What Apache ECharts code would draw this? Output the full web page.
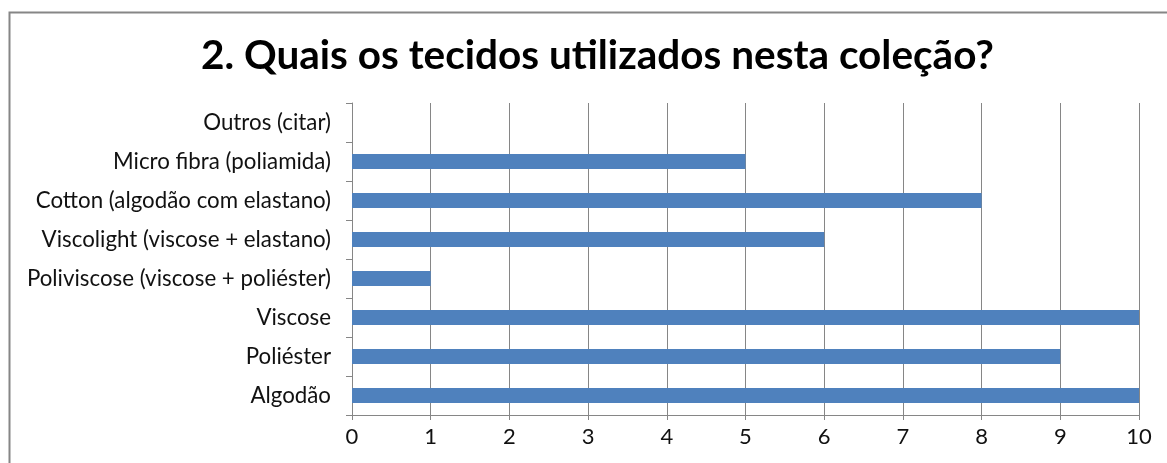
<!DOCTYPE html>
<html><head><meta charset="utf-8">
<script src="https://cdn.jsdelivr.net/npm/echarts@6/dist/echarts.min.js"></script>
<style>html,body{margin:0;padding:0;background:#fff}#c{width:1167px;height:463px}</style>
</head><body><div id="c"></div>
<script>
const title = "2. Quais os tecidos utilizados nesta coleção?";
const categories = ["Algodão","Poliéster","Viscose","Poliviscose (viscose + poliéster)","Viscolight (viscose + elastano)","Cotton (algodão com elastano)","Micro fibra (poliamida)","Outros (citar)"];
const values = [10, 9, 10, 1, 6, 8, 5, 0];
const xMin = 0, xMax = 10, xStep = 1;

const chart = echarts.init(document.getElementById('c'), null, {renderer:'canvas'});
chart.setOption({
  animation:false,
  graphic:[{type:'rect', shape:{x:9.5,y:12.5,width:1200,height:500}, style:{fill:'none', stroke:'#868686', lineWidth:2}, silent:true}],
  title:{text:title, left:196, top:30, textStyle:{fontFamily:'Lato', fontWeight:'bold', fontSize:40.5, color:'#000'}},
  grid:{left:352, right:28, top:103, bottom:48, containLabel:false},
  xAxis:{type:'value', min:xMin, max:xMax, interval:xStep,
    axisLine:{show:true, lineStyle:{color:'#868686'}},
    axisTick:{show:true, length:5, lineStyle:{color:'#868686'}},
    axisLabel:{fontFamily:'Lato', fontSize:22, color:'#111', margin:11},
    splitLine:{show:true, lineStyle:{color:'#868686', width:1}}},
  yAxis:{type:'category', data:categories,
    axisLine:{show:true, lineStyle:{color:'#868686'}},
    axisTick:{show:true, length:6, lineStyle:{color:'#868686'}},
    axisLabel:{fontFamily:'Lato', fontSize:22.3, color:'#111', margin:21}},
  series:[{type:'bar', data:values, barWidth:15, itemStyle:{color:'#4F81BD'}}]
});
</script></body></html>
